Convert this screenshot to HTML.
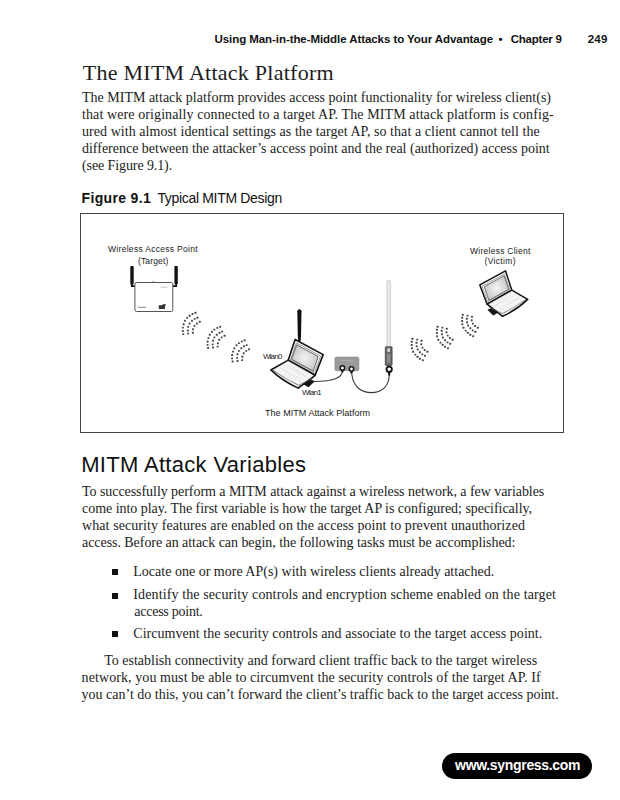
<!DOCTYPE html>
<html><head><meta charset="utf-8"><style>
html,body{margin:0;padding:0;background:#fff;}
body{width:620px;height:800px;position:relative;overflow:hidden;}
.l{position:absolute;white-space:nowrap;line-height:0;color:#1a1a1a;}
.se{font-family:"Liberation Serif",serif;color:#1c1c1c;}
.sb{font-family:"Liberation Sans",sans-serif;font-weight:bold;color:#111;}
.sr{font-family:"Liberation Sans",sans-serif;color:#111;}
.sbw{font-family:"Liberation Sans",sans-serif;font-weight:bold;color:#fff;}
.fs{font-family:"Liberation Sans",sans-serif;color:#1a1a1a;}
.bul{position:absolute;width:6px;height:6px;background:#111;left:112px;}
.box{position:absolute;left:80px;top:213px;width:482px;height:218px;border:1px solid #444;}
.pill{position:absolute;left:441.5px;top:753px;width:150px;height:25.5px;border-radius:13px;background:#000;}
svg{position:absolute;left:0;top:0;}
</style></head><body>
<div class="box"></div>
<div class="pill"></div>
<div class="bul" style="top:568.5px"></div>
<div class="bul" style="top:592.5px"></div>
<div class="bul" style="top:631.2px"></div>
<svg width="620" height="800" viewBox="0 0 620 800">
<defs>
  <radialGradient id="scr" cx="0.5" cy="0.5" r="0.7">
    <stop offset="0" stop-color="#f4f4f4"/>
    <stop offset="1" stop-color="#b8b8b8"/>
  </radialGradient>
  <g id="lap">
<g stroke-linejoin="round">
  <path d="M487.4,309.8 L492.6,307.4 L498.4,312.4 L493.2,315.4 Z" fill="#151515"/>
  <path d="M479.8,284.9 L505.5,270.8 L511.8,290.2 L487.1,304.2 Z" fill="#fafafa" stroke="#151515" stroke-width="1.5"/>
  <path d="M482.2,286.3 L504.3,274.0 L509.7,289.5 L487.7,301.8 Z" fill="none" stroke="#666" stroke-width="0.6"/>
  <path d="M484.4,286.7 L504.0,275.8 L508.7,289.3 L488.8,300.3 Z" fill="url(#scr)" stroke="#444" stroke-width="0.7"/>
  <path d="M487.1,304.2 L511.8,290.2 L527.7,299.4 Q517,309.8 502.6,316.3 Z" fill="#f4f4f4" stroke="#151515" stroke-width="1.5"/>
  <path d="M488.8,306.9 L502.3,313.6 Q515.5,307.3 525.8,299.6" fill="none" stroke="#555" stroke-width="0.7"/>
  <path d="M491.5,303.2 L513,291.6 M495.5,305.7 L517.2,294.0 M499.5,308.2 L521.4,296.5 M493,307 L511,294.5 M500,310.5 L517.6,298.2 M507,311.8 L522.5,300.8" fill="none" stroke="#dedede" stroke-width="0.5"/>
</g></g>
</defs>
<!-- AP device -->
<g>
  <rect x="130.3" y="265.9" width="3.4" height="18.5" rx="0.8" fill="#111"/>
  <path d="M131.8,284 L131.8,286.2 L135.5,286.2" fill="none" stroke="#111" stroke-width="1.8"/>
  <rect x="174.4" y="265.9" width="3.4" height="18.5" rx="0.8" fill="#111"/>
  <path d="M176.2,284 L176.2,286.2 L172.5,286.2" fill="none" stroke="#111" stroke-width="1.8"/>
  <path d="M151.5,282.6 Q153.6,279.8 155.7,282.6" fill="#ddd" stroke="#888" stroke-width="0.6"/>
  <rect x="134.9" y="282.5" width="37.9" height="29" rx="1.5" fill="#fff" stroke="#555" stroke-width="1"/>
  <rect x="160.5" y="286.8" width="7" height="0.8" fill="#bbb"/>
  <rect x="138" y="306.8" width="8" height="0.9" fill="#777"/>
  <rect x="158.8" y="305.2" width="6.2" height="3.8" fill="#333"/>
  <rect x="162.5" y="304.2" width="3.2" height="1.6" fill="#333"/>
</g>
<g fill="#484848"><rect x="182.35" y="333.15" width="1.90" height="1.90" rx="0.5"/><rect x="181.85" y="330.05" width="1.90" height="1.90" rx="0.5"/><rect x="181.85" y="326.65" width="1.90" height="1.90" rx="0.5"/><rect x="182.65" y="323.25" width="1.90" height="1.90" rx="0.5"/><rect x="184.05" y="319.85" width="1.90" height="1.90" rx="0.5"/><rect x="186.25" y="316.95" width="1.90" height="1.90" rx="0.5"/><rect x="188.65" y="314.75" width="1.90" height="1.90" rx="0.5"/><rect x="191.55" y="313.05" width="1.90" height="1.90" rx="0.5"/><rect x="194.45" y="311.85" width="1.90" height="1.90" rx="0.5"/><rect x="187.25" y="332.65" width="1.90" height="1.90" rx="0.5"/><rect x="186.95" y="329.55" width="1.90" height="1.90" rx="0.5"/><rect x="187.25" y="325.95" width="1.90" height="1.90" rx="0.5"/><rect x="188.65" y="322.55" width="1.90" height="1.90" rx="0.5"/><rect x="191.05" y="319.85" width="1.90" height="1.90" rx="0.5"/><rect x="193.75" y="317.95" width="1.90" height="1.90" rx="0.5"/><rect x="196.45" y="316.75" width="1.90" height="1.90" rx="0.5"/><rect x="191.85" y="331.75" width="1.90" height="1.90" rx="0.5"/><rect x="192.05" y="328.35" width="1.90" height="1.90" rx="0.5"/><rect x="193.45" y="324.95" width="1.90" height="1.90" rx="0.5"/><rect x="195.95" y="322.55" width="1.90" height="1.90" rx="0.5"/><rect x="198.85" y="320.85" width="1.90" height="1.90" rx="0.5"/><rect x="207.15" y="347.05" width="1.90" height="1.90" rx="0.5"/><rect x="206.65" y="343.95" width="1.90" height="1.90" rx="0.5"/><rect x="206.65" y="340.55" width="1.90" height="1.90" rx="0.5"/><rect x="207.45" y="337.15" width="1.90" height="1.90" rx="0.5"/><rect x="208.85" y="333.75" width="1.90" height="1.90" rx="0.5"/><rect x="211.05" y="330.85" width="1.90" height="1.90" rx="0.5"/><rect x="213.45" y="328.65" width="1.90" height="1.90" rx="0.5"/><rect x="216.35" y="326.95" width="1.90" height="1.90" rx="0.5"/><rect x="219.25" y="325.75" width="1.90" height="1.90" rx="0.5"/><rect x="212.05" y="346.55" width="1.90" height="1.90" rx="0.5"/><rect x="211.75" y="343.45" width="1.90" height="1.90" rx="0.5"/><rect x="212.05" y="339.85" width="1.90" height="1.90" rx="0.5"/><rect x="213.45" y="336.45" width="1.90" height="1.90" rx="0.5"/><rect x="215.85" y="333.75" width="1.90" height="1.90" rx="0.5"/><rect x="218.55" y="331.85" width="1.90" height="1.90" rx="0.5"/><rect x="221.25" y="330.65" width="1.90" height="1.90" rx="0.5"/><rect x="216.65" y="345.65" width="1.90" height="1.90" rx="0.5"/><rect x="216.85" y="342.25" width="1.90" height="1.90" rx="0.5"/><rect x="218.25" y="338.85" width="1.90" height="1.90" rx="0.5"/><rect x="220.75" y="336.45" width="1.90" height="1.90" rx="0.5"/><rect x="223.65" y="334.75" width="1.90" height="1.90" rx="0.5"/><rect x="231.65" y="360.55" width="1.90" height="1.90" rx="0.5"/><rect x="231.15" y="357.45" width="1.90" height="1.90" rx="0.5"/><rect x="231.15" y="354.05" width="1.90" height="1.90" rx="0.5"/><rect x="231.95" y="350.65" width="1.90" height="1.90" rx="0.5"/><rect x="233.35" y="347.25" width="1.90" height="1.90" rx="0.5"/><rect x="235.55" y="344.35" width="1.90" height="1.90" rx="0.5"/><rect x="237.95" y="342.15" width="1.90" height="1.90" rx="0.5"/><rect x="240.85" y="340.45" width="1.90" height="1.90" rx="0.5"/><rect x="243.75" y="339.25" width="1.90" height="1.90" rx="0.5"/><rect x="236.55" y="360.05" width="1.90" height="1.90" rx="0.5"/><rect x="236.25" y="356.95" width="1.90" height="1.90" rx="0.5"/><rect x="236.55" y="353.35" width="1.90" height="1.90" rx="0.5"/><rect x="237.95" y="349.95" width="1.90" height="1.90" rx="0.5"/><rect x="240.35" y="347.25" width="1.90" height="1.90" rx="0.5"/><rect x="243.05" y="345.35" width="1.90" height="1.90" rx="0.5"/><rect x="245.75" y="344.15" width="1.90" height="1.90" rx="0.5"/><rect x="241.15" y="359.15" width="1.90" height="1.90" rx="0.5"/><rect x="241.35" y="355.75" width="1.90" height="1.90" rx="0.5"/><rect x="242.75" y="352.35" width="1.90" height="1.90" rx="0.5"/><rect x="245.25" y="349.95" width="1.90" height="1.90" rx="0.5"/><rect x="248.15" y="348.25" width="1.90" height="1.90" rx="0.5"/><rect x="411.45" y="337.75" width="1.90" height="1.90" rx="0.5"/><rect x="410.75" y="340.85" width="1.90" height="1.90" rx="0.5"/><rect x="410.75" y="344.05" width="1.90" height="1.90" rx="0.5"/><rect x="410.95" y="347.35" width="1.90" height="1.90" rx="0.5"/><rect x="412.15" y="350.75" width="1.90" height="1.90" rx="0.5"/><rect x="414.35" y="353.65" width="1.90" height="1.90" rx="0.5"/><rect x="416.55" y="355.85" width="1.90" height="1.90" rx="0.5"/><rect x="418.95" y="357.75" width="1.90" height="1.90" rx="0.5"/><rect x="421.85" y="359.25" width="1.90" height="1.90" rx="0.5"/><rect x="416.25" y="338.65" width="1.90" height="1.90" rx="0.5"/><rect x="415.55" y="341.85" width="1.90" height="1.90" rx="0.5"/><rect x="415.75" y="345.25" width="1.90" height="1.90" rx="0.5"/><rect x="416.75" y="348.55" width="1.90" height="1.90" rx="0.5"/><rect x="418.95" y="351.25" width="1.90" height="1.90" rx="0.5"/><rect x="421.35" y="353.45" width="1.90" height="1.90" rx="0.5"/><rect x="424.05" y="354.85" width="1.90" height="1.90" rx="0.5"/><rect x="420.65" y="339.85" width="1.90" height="1.90" rx="0.5"/><rect x="420.35" y="343.25" width="1.90" height="1.90" rx="0.5"/><rect x="421.55" y="346.65" width="1.90" height="1.90" rx="0.5"/><rect x="423.75" y="349.05" width="1.90" height="1.90" rx="0.5"/><rect x="426.45" y="350.75" width="1.90" height="1.90" rx="0.5"/><rect x="436.65" y="325.75" width="1.90" height="1.90" rx="0.5"/><rect x="435.95" y="328.85" width="1.90" height="1.90" rx="0.5"/><rect x="435.95" y="332.05" width="1.90" height="1.90" rx="0.5"/><rect x="436.15" y="335.35" width="1.90" height="1.90" rx="0.5"/><rect x="437.35" y="338.75" width="1.90" height="1.90" rx="0.5"/><rect x="439.55" y="341.65" width="1.90" height="1.90" rx="0.5"/><rect x="441.75" y="343.85" width="1.90" height="1.90" rx="0.5"/><rect x="444.15" y="345.75" width="1.90" height="1.90" rx="0.5"/><rect x="447.05" y="347.25" width="1.90" height="1.90" rx="0.5"/><rect x="441.45" y="326.65" width="1.90" height="1.90" rx="0.5"/><rect x="440.75" y="329.85" width="1.90" height="1.90" rx="0.5"/><rect x="440.95" y="333.25" width="1.90" height="1.90" rx="0.5"/><rect x="441.95" y="336.55" width="1.90" height="1.90" rx="0.5"/><rect x="444.15" y="339.25" width="1.90" height="1.90" rx="0.5"/><rect x="446.55" y="341.45" width="1.90" height="1.90" rx="0.5"/><rect x="449.25" y="342.85" width="1.90" height="1.90" rx="0.5"/><rect x="445.85" y="327.85" width="1.90" height="1.90" rx="0.5"/><rect x="445.55" y="331.25" width="1.90" height="1.90" rx="0.5"/><rect x="446.75" y="334.65" width="1.90" height="1.90" rx="0.5"/><rect x="448.95" y="337.05" width="1.90" height="1.90" rx="0.5"/><rect x="451.65" y="338.75" width="1.90" height="1.90" rx="0.5"/><rect x="461.85" y="313.75" width="1.90" height="1.90" rx="0.5"/><rect x="461.15" y="316.85" width="1.90" height="1.90" rx="0.5"/><rect x="461.15" y="320.05" width="1.90" height="1.90" rx="0.5"/><rect x="461.35" y="323.35" width="1.90" height="1.90" rx="0.5"/><rect x="462.55" y="326.75" width="1.90" height="1.90" rx="0.5"/><rect x="464.75" y="329.65" width="1.90" height="1.90" rx="0.5"/><rect x="466.95" y="331.85" width="1.90" height="1.90" rx="0.5"/><rect x="469.35" y="333.75" width="1.90" height="1.90" rx="0.5"/><rect x="472.25" y="335.25" width="1.90" height="1.90" rx="0.5"/><rect x="466.65" y="314.65" width="1.90" height="1.90" rx="0.5"/><rect x="465.95" y="317.85" width="1.90" height="1.90" rx="0.5"/><rect x="466.15" y="321.25" width="1.90" height="1.90" rx="0.5"/><rect x="467.15" y="324.55" width="1.90" height="1.90" rx="0.5"/><rect x="469.35" y="327.25" width="1.90" height="1.90" rx="0.5"/><rect x="471.75" y="329.45" width="1.90" height="1.90" rx="0.5"/><rect x="474.45" y="330.85" width="1.90" height="1.90" rx="0.5"/><rect x="471.05" y="315.85" width="1.90" height="1.90" rx="0.5"/><rect x="470.75" y="319.25" width="1.90" height="1.90" rx="0.5"/><rect x="471.95" y="322.65" width="1.90" height="1.90" rx="0.5"/><rect x="474.15" y="325.05" width="1.90" height="1.90" rx="0.5"/><rect x="476.85" y="326.75" width="1.90" height="1.90" rx="0.5"/></g>
<!-- client laptop -->
<use href="#lap"/>
<!-- cables -->
<path d="M314,381.5 C322,381.5 330,381 336,378.5 C341,376.5 342.4,374 342.4,370.5" fill="none" stroke="#3a3a3a" stroke-width="1.1"/>
<path d="M351.5,371 C352,382 357,392.5 370.8,392.6 C383,392.6 389.2,385 389.2,375" fill="none" stroke="#3a3a3a" stroke-width="1.1"/>
<!-- MITM laptop antenna -->
<path d="M297.3,311.2 Q297.3,309.2 299.4,309.2 Q301.5,309.2 301.5,311.2 L301.0,336 L300.6,341 L298.3,341 L297.8,336 Z" fill="#111"/>
<!-- MITM laptop -->
<use href="#lap" transform="matrix(-1.0926,-0.0045,-0.0018,1.0700,847.92,51.96)"/>
<!-- router box -->
<rect x="334.9" y="357" width="24" height="13.7" rx="1.5" fill="#9a9a9a" stroke="#7a7a7a" stroke-width="0.5"/>
<rect x="339" y="360" width="14" height="0.7" fill="#b5b5b5"/>
<circle cx="342.4" cy="368" r="2.2" fill="#fff" stroke="#111" stroke-width="1.5"/><rect x="341.4" y="370" width="2" height="2.4" fill="#111"/>
<circle cx="351.5" cy="369" r="2.2" fill="#fff" stroke="#111" stroke-width="1.5"/><rect x="350.5" y="371" width="2" height="2.4" fill="#111"/>
<!-- external antenna -->
<rect x="386.8" y="280.5" width="3.8" height="67" rx="1" fill="#e8e8e8" stroke="#bdbdbd" stroke-width="0.6"/>
<rect x="385.3" y="346.8" width="6.8" height="18.6" rx="0.6" fill="#6a6a6a" stroke="#333" stroke-width="0.7"/>
<rect x="387.4" y="348.3" width="2.6" height="3.6" fill="#d8d8d8"/>
<rect x="387" y="354" width="3.4" height="9" fill="#8a8a8a"/>
<circle cx="389.2" cy="369.3" r="2.7" fill="#fff" stroke="#111" stroke-width="1.8"/>
<rect x="388.2" y="372.5" width="2" height="3" fill="#111"/>
</svg>
<div class="l sb" id="t0" style="left:214.50px;top:39.01px;font-size:11.5px;letter-spacing:-0.067px">Using Man-in-the-Middle Attacks to Your Advantage</div>
<div class="l sb" id="t1" style="left:498.50px;top:39.01px;font-size:11.5px;letter-spacing:0.000px">•</div>
<div class="l sb" id="t2" style="left:510.70px;top:39.01px;font-size:11.5px;letter-spacing:-0.224px">Chapter 9</div>
<div class="l sb" id="t3" style="left:587.70px;top:39.01px;font-size:11.5px;letter-spacing:0.200px">249</div>
<div class="l se" id="t4" style="left:82.80px;top:73.18px;font-size:22px;letter-spacing:0.252px">The MITM Attack Platform</div>
<div class="l se" id="t5" style="left:82.00px;top:98.28px;font-size:14px;letter-spacing:0.002px">The MITM attack platform provides access point functionality for wireless client(s)</div>
<div class="l se" id="t6" style="left:82.00px;top:114.58px;font-size:14px;letter-spacing:0.099px">that were originally connected to a target AP. The MITM attack platform is config-</div>
<div class="l se" id="t7" style="left:82.00px;top:131.88px;font-size:14px;letter-spacing:0.055px">ured with almost identical settings as the target AP, so that a client cannot tell the</div>
<div class="l se" id="t8" style="left:82.00px;top:149.18px;font-size:14px;letter-spacing:-0.012px">difference between the attacker’s access point and the real (authorized) access point</div>
<div class="l se" id="t9" style="left:82.00px;top:166.48px;font-size:14px;letter-spacing:-0.100px">(see Figure 9.1).</div>
<div class="l sb" id="t10" style="left:81.60px;top:198.15px;font-size:14px;letter-spacing:0.333px">Figure 9.1</div>
<div class="l sr" id="t11" style="left:157.40px;top:198.15px;font-size:14px;letter-spacing:-0.322px">Typical MITM Design</div>
<div class="l sr" id="t12" style="left:81.20px;top:465.27px;font-size:22px;letter-spacing:0.320px">MITM Attack Variables</div>
<div class="l se" id="t13" style="left:82.00px;top:491.68px;font-size:14px;letter-spacing:-0.055px">To successfully perform a MITM attack against a wireless network, a few variables</div>
<div class="l se" id="t14" style="left:82.00px;top:508.98px;font-size:14px;letter-spacing:-0.038px">come into play. The first variable is how the target AP is configured; specifically,</div>
<div class="l se" id="t15" style="left:82.00px;top:526.28px;font-size:14px;letter-spacing:0.083px">what security features are enabled on the access point to prevent unauthorized</div>
<div class="l se" id="t16" style="left:82.00px;top:542.58px;font-size:14px;letter-spacing:-0.052px">access. Before an attack can begin, the following tasks must be accomplished:</div>
<div class="l se" id="t17" style="left:133.30px;top:571.78px;font-size:14px;letter-spacing:0.004px">Locate one or more AP(s) with wireless clients already attached.</div>
<div class="l se" id="t18" style="left:133.30px;top:594.98px;font-size:14px;letter-spacing:0.115px">Identify the security controls and encryption scheme enabled on the target</div>
<div class="l se" id="t19" style="left:134.30px;top:612.28px;font-size:14px;letter-spacing:-0.250px">access point.</div>
<div class="l se" id="t20" style="left:133.30px;top:634.38px;font-size:14px;letter-spacing:0.041px">Circumvent the security controls and associate to the target access point.</div>
<div class="l se" id="t21" style="left:104.20px;top:660.98px;font-size:14px;letter-spacing:0.002px">To establish connectivity and forward client traffic back to the target wireless</div>
<div class="l se" id="t22" style="left:81.60px;top:678.28px;font-size:14px;letter-spacing:0.084px">network, you must be able to circumvent the security controls of the target AP. If</div>
<div class="l se" id="t23" style="left:81.60px;top:694.58px;font-size:14px;letter-spacing:-0.005px">you can’t do this, you can’t forward the client’s traffic back to the target access point.</div>
<div class="l sbw" id="t24" style="left:455.10px;top:765.25px;font-size:14px;letter-spacing:-0.320px">www.syngress.com</div>
<div class="l fs" id="t25" style="left:108.00px;top:249.05px;font-size:8.5px;letter-spacing:0.300px">Wireless Access Point</div>
<div class="l fs" id="t26" style="left:138.00px;top:260.55px;font-size:8.5px;letter-spacing:0.143px">(Target)</div>
<div class="l fs" id="t27" style="left:470.00px;top:250.55px;font-size:8.5px;letter-spacing:0.257px">Wireless Client</div>
<div class="l fs" id="t28" style="left:484.50px;top:261.25px;font-size:8.5px;letter-spacing:0.343px">(Victim)</div>
<div class="l fs" id="t29" style="left:262.90px;top:356.63px;font-size:8px;letter-spacing:-0.800px">Wlan0</div>
<div class="l fs" id="t30" style="left:302.00px;top:393.23px;font-size:8px;letter-spacing:-0.750px">Wlan1</div>
<div class="l fs" id="t31" style="left:265.00px;top:413.18px;font-size:9px;letter-spacing:0.043px">The MITM Attack Platform</div>
</body></html>
